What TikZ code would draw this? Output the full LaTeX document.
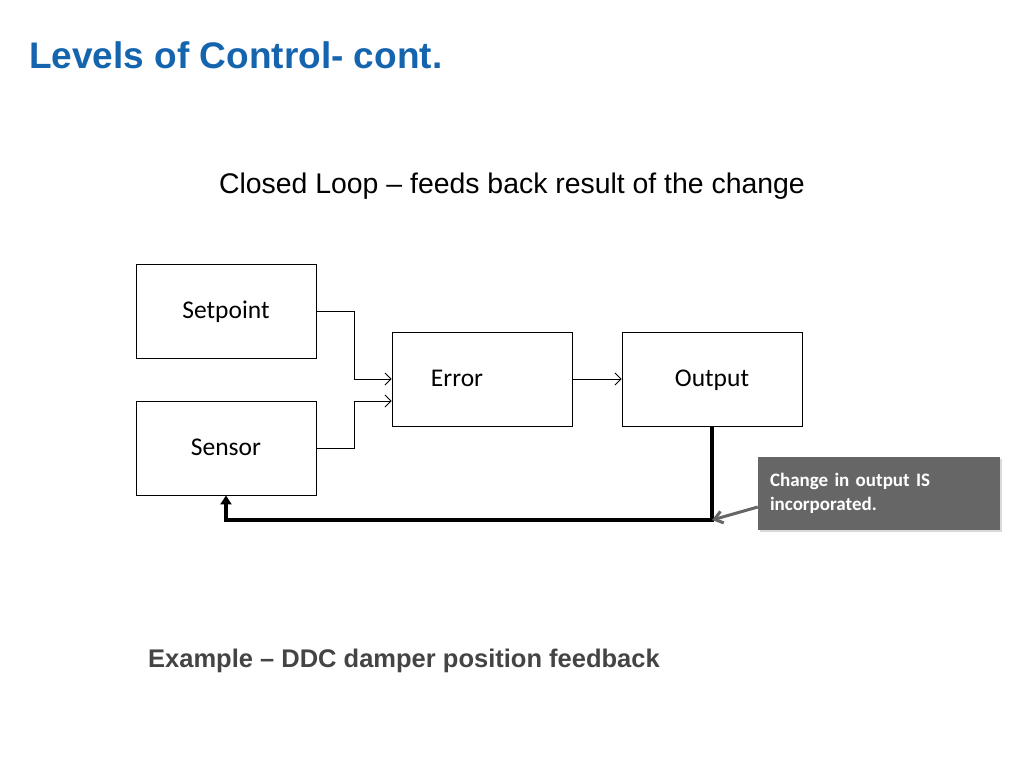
\documentclass[tikz,border=0pt]{standalone}
\usepackage{fontspec}
\setmainfont{Liberation Sans}
\newfontfamily\boxfont{Carlito}
\usetikzlibrary{arrows.meta,shadows}
\definecolor{titleblue}{HTML}{1565AE}
\definecolor{notegray}{HTML}{666666}
\definecolor{textgray}{HTML}{444444}

\begin{document}
\begin{tikzpicture}[x=1pt,y=-1pt,
    block/.style={draw,line width=0.9pt,minimum width=180pt,minimum height=94pt,text height=15pt,text depth=0pt,
      font=\boxfont\fontsize{25.5}{28}\selectfont},
    link/.style={line width=0.9pt,-{Straight Barb[length=6pt,width=12pt]}},
    feedback/.style={line width=4pt,-{Triangle[length=9pt,width=11pt]}},
    note/.style={fill=notegray,text=white,minimum width=242pt,minimum height=73pt,text width=218pt,align=left,
      font=\boxfont\bfseries\fontsize{19}{24}\selectfont,drop shadow={opacity=0.3,shadow xshift=2pt,shadow yshift=-2pt}}]
  \useasboundingbox (0,0) rectangle (1024,768);
  % headings
  \node[anchor=west,inner sep=0,font=\bfseries\fontsize{37}{40}\selectfont,text=titleblue] (title) at (29,55) {Levels of Control- cont.};
  \node[inner sep=0,font=\fontsize{28.4}{32}\selectfont] (subtitle) at (512,186) {Closed Loop – feeds back result of the change};
  % blocks
  \node[block] (setpoint) at (226,311) {Setpoint};
  \node[block] (sensor) at (226,448) {Sensor};
  \node[block] (error) at (482,379) {};
  \node[font=\boxfont\fontsize{25.5}{28}\selectfont,text height=15pt,text depth=0pt] (errortext) at (457,379) {Error};
  \node[block] (output) at (712,379) {Output};
  \coordinate (fbcorner) at (712,520);
  % connectors
  \draw[link] (setpoint.east) -- (354,311) |- (error.west);
  \draw[link] (sensor.east) -- (354,448) |- ([yshift=-22pt]error.west);
  \draw[link] (error.east) -- (output.west);
  \draw[feedback] (output.south) -- (fbcorner) -| (sensor.south);
  % callout
  \node[note] (callout) at (879,493) {Change in output IS\\incorporated.};
  \draw[notegray,line width=3pt,-{Straight Barb[length=8pt,width=12pt]}] ([yshift=-14pt]callout.west) -- (fbcorner);
  \node[anchor=west,inner sep=0,font=\bfseries\fontsize{25.5}{28}\selectfont,text=textgray] (example) at (148,661) {Example – DDC damper position feedback};
\end{tikzpicture}
\end{document}
